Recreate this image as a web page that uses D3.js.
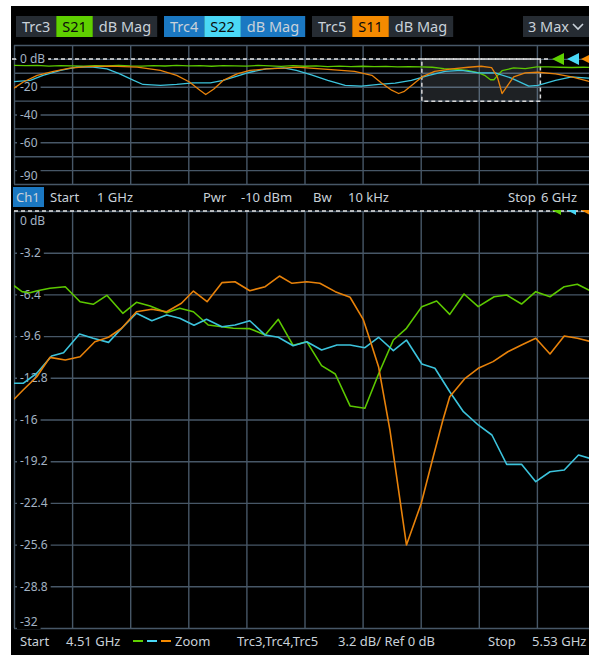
<!DOCTYPE html>
<html>
<head>
<meta charset="utf-8">
<script src="https://cdn.jsdelivr.net/npm/d3@7/dist/d3.min.js"></script>
<style>
  html, body { margin: 0; padding: 0; background: #fff; }
  svg { display: block; font-family: "Noto Sans", "Open Sans", sans-serif; }
</style>
</head>
<body>
<div id="graf"></div>
<script>
// I. Datos
trcNames   = ['Trc3', 'Trc4', 'Trc5']
paramNames = ['S21', 'S22', 'S11']
formatName = 'dB Mag'
maxLabel   = '3 Max'

chanTexts = ['Start', '1 GHz', 'Pwr', '-10 dBm', 'Bw', '10 kHz', 'Stop', '6 GHz']
zoomTexts = ['Start', '4.51 GHz', 'Zoom', 'Trc3,Trc4,Trc5', '3.2 dB/ Ref 0 dB', 'Stop', '5.53 GHz']

// diagrama superior: 1..6 GHz, 10 dB/div
overviewFreqGrid = [1, 1.5, 2, 2.5, 3, 3.5, 4, 4.5, 5, 5.5, 6]
overviewDbGrid   = [10, 0, -10, -20, -30, -40, -50, -60, -70, -80, -90]
overviewTickVals = [0, -20, -40, -60, -90]
overviewTickText = ['0 dB', '-20', '-40', '-60', '-90']
zoomBox          = [4.51, 5.53, 0, -30.5]

// diagrama inferior: 4.51..5.53 GHz, 3.2 dB/div
zoomFreqGrid = [4.51, 4.612, 4.714, 4.816, 4.918, 5.02, 5.122, 5.224, 5.326, 5.428, 5.53]
zoomDbGrid   = [0, -3.2, -6.4, -9.6, -12.8, -16, -19.2, -22.4, -25.6, -28.8, -32]
zoomTickText = ['0 dB', '-3.2', '-6.4', '-9.6', '-12.8', '-16', '-19.2', '-22.4', '-25.6', '-28.8', '-32']

// trazas vista general
ovS21Freq = [1.0, 1.1, 1.2, 1.3, 1.4, 1.5, 1.6, 1.7, 1.8, 1.9, 2.0, 2.1, 2.2, 2.3, 2.4, 2.5, 2.6, 2.7, 2.8, 2.9,
             3.0, 3.1, 3.2, 3.3, 3.4, 3.5, 3.6, 3.7, 3.8, 3.9, 4.0, 4.1, 4.2, 4.3, 4.4, 4.5, 4.6, 4.7, 4.8, 4.9,
             5.0, 5.05, 5.1, 5.13, 5.16, 5.2, 5.3, 5.4, 5.5, 5.6, 5.7, 5.8, 5.9, 6.0]
ovS21Db   = [-4.6, -4.9, -4.7, -5.2, -4.8, -5.0, -5.3, -4.9, -5.1, -4.6, -5.0, -5.2, -4.8, -5.1, -4.7, -5.0, -4.9, -5.3, -4.8, -5.0,
             -5.2, -4.7, -5.0, -5.4, -4.9, -5.3, -5.0, -5.5, -5.2, -5.6, -5.3, -5.6, -5.4, -5.8, -5.5, -5.8, -6.0, -7.0, -7.5, -8.2,
             -10.0, -11.8, -15.0, -15.0, -12.0, -8.5, -6.5, -7.0, -5.7, -5.8, -6.0, -6.2, -6.0, -6.3]

ovS22Freq = [1.0, 1.14, 1.25, 1.40, 1.54, 1.68, 1.80, 1.91, 2.03, 2.11, 2.26, 2.40, 2.54, 2.69, 2.80, 2.92, 3.03, 3.17, 3.32, 3.43,
             3.56, 3.70, 3.85, 3.99, 4.14, 4.28, 4.42, 4.57, 4.71, 4.85, 5.0, 5.14, 5.28, 5.43, 5.51, 5.66, 5.80, 5.94, 6.0]
ovS22Db   = [-16.3, -15.5, -11.8, -8.3, -5.9, -5.9, -7.2, -10.8, -15.5, -18.4, -19.1, -18.4, -17.3, -17.3, -15.5, -12.4, -9.6, -7.2, -6.5, -8.3,
             -11.5, -15.5, -19.1, -19.6, -18.4, -17.5, -15.5, -11.8, -9.0, -8.3, -10.0, -10.1, -13.8, -19.6, -19.1, -15.5, -13.0, -13.8, -14.0]

ovS11Freq = [1.0, 1.08, 1.20, 1.34, 1.48, 1.63, 1.83, 2.06, 2.26, 2.40, 2.51, 2.60, 2.65, 2.72, 2.80, 2.92, 3.03, 3.17, 3.32, 3.43,
             3.70, 3.93, 4.08, 4.16, 4.25, 4.31, 4.36, 4.44, 4.51, 4.62, 4.77, 4.91, 5.02, 5.11, 5.16, 5.20, 5.25, 5.30, 5.40, 5.51,
             5.66, 5.80, 5.94, 6.0]
ovS11Db   = [-21.0, -16.6, -11.8, -8.9, -6.7, -5.5, -5.2, -5.9, -8.3, -11.8, -16.6, -22.5, -25.6, -21.6, -15.5, -10.8, -8.3, -7.2, -6.7, -5.9,
             -7.6, -9.0, -11.8, -17.1, -22.5, -24.9, -23.3, -17.8, -13.0, -9.0, -7.2, -6.0, -5.3, -6.3, -13.0, -24.9, -18.9, -13.0, -10.1, -9.6,
             -10.8, -13.0, -16.0, -17.0]

// trazas zoom
zS21Freq = [4.51, 4.524, 4.538, 4.551, 4.573, 4.600, 4.626, 4.649, 4.673, 4.701, 4.725, 4.749, 4.778, 4.801, 4.825, 4.851, 4.875, 4.895,
            4.924, 4.951, 4.974, 5.000, 5.024, 5.050, 5.074, 5.100, 5.126, 5.150, 5.176, 5.199, 5.226, 5.252, 5.275, 5.300, 5.325, 5.353,
            5.375, 5.401, 5.426, 5.451, 5.476, 5.499, 5.530]
zS21Db   = [-5.73, -6.19, -6.27, -6.12, -5.93, -5.81, -6.96, -7.16, -6.47, -7.85, -7.01, -7.29, -7.80, -7.47, -7.73, -8.75, -8.88, -9.00,
            -9.03, -9.52, -8.31, -10.31, -10.03, -11.87, -12.51, -14.96, -15.14, -12.51, -9.90, -9.00, -7.34, -6.91, -7.93, -6.37, -7.34, -6.58,
            -6.45, -7.14, -6.19, -6.58, -5.81, -5.62, -6.30]

zS22Freq = [4.51, 4.526, 4.550, 4.576, 4.597, 4.625, 4.649, 4.676, 4.699, 4.725, 4.752, 4.778, 4.801, 4.826, 4.848, 4.875, 4.898, 4.924,
            4.951, 4.974, 5.000, 5.024, 5.050, 5.077, 5.100, 5.126, 5.150, 5.176, 5.199, 5.226, 5.249, 5.275, 5.299, 5.325, 5.349, 5.375,
            5.401, 5.426, 5.451, 5.476, 5.501, 5.530]
zS22Db   = [-13.22, -13.22, -12.45, -11.13, -10.87, -9.44, -9.77, -10.08, -9.00, -7.85, -8.42, -7.98, -8.23, -8.77, -8.31, -8.88, -8.75, -8.42,
            -9.52, -9.69, -10.34, -10.03, -10.67, -10.28, -10.28, -10.49, -9.69, -10.72, -9.90, -11.74, -12.07, -13.87, -15.40, -16.42, -17.19, -19.44,
            -19.44, -20.77, -20.01, -19.88, -18.72, -19.10]

zS11Freq = [4.51, 4.526, 4.550, 4.573, 4.600, 4.626, 4.652, 4.676, 4.699, 4.725, 4.752, 4.778, 4.804, 4.825, 4.849, 4.875, 4.898, 4.924,
            4.951, 4.976, 4.998, 5.024, 5.047, 5.074, 5.100, 5.123, 5.135, 5.150, 5.170, 5.199, 5.225, 5.246, 5.263, 5.275, 5.302, 5.325,
            5.351, 5.377, 5.401, 5.426, 5.451, 5.476, 5.499, 5.530]
zS11Db   = [-14.45, -13.74, -12.72, -11.23, -11.43, -11.18, -10.03, -9.69, -9.00, -7.73, -7.54, -7.73, -7.08, -6.14, -6.96, -5.50, -5.43, -6.12,
            -5.81, -4.99, -5.55, -5.43, -5.55, -6.19, -6.62, -8.31, -9.90, -11.95, -16.81, -25.63, -22.43, -18.86, -16.04, -14.25, -12.84, -12.07,
            -11.56, -10.80, -10.28, -9.77, -10.97, -9.59, -9.77, -10.10]

// II. Configuracion / estilos
W = 589, H = 655
col = {
  bg: '#000', tag: '#262c33', blue: '#1b78c2', text: '#c9d1d9', axis: '#a3b3c3',
  grid: '#475767', s21: '#5cc800', s22: '#3cc3dc', s11: '#e8820a',
  s21Tag: '#5fd000', s22Tag: '#4ad8f6', s11Tag: '#f58a00'
}
traceCol = [col.s21, col.s22, col.s11]
tagCol   = [col.s21Tag, col.s22Tag, col.s11Tag]

plotL = 14, plotR = 595
boxTop = { t: 45, b: 184 }
boxBot = { t: 211, b: 628 }

svg = d3.select('#graf').append('svg')
        .attr('width', W).attr('height', H)

svg.append('rect').attr('x', 11).attr('y', 6)
   .attr('width', W - 11).attr('height', H - 6).attr('fill', col.bg)

defs = svg.append('defs')
defs.append('clipPath').attr('id', 'clipTop').append('rect')
    .attr('x', plotL).attr('y', boxTop.t).attr('width', plotR - plotL).attr('height', boxTop.b - boxTop.t)
defs.append('clipPath').attr('id', 'clipBot').append('rect')
    .attr('x', plotL).attr('y', boxBot.t - 2).attr('width', plotR - plotL).attr('height', boxBot.b - boxBot.t + 2)

// escalas
xTop = d3.scaleLinear().domain([1, 6]).range([plotL, plotR])
yTop = d3.scaleLinear().domain([10, -90]).range([boxTop.t, boxTop.b])
xBot = d3.scaleLinear().domain([4.51, 5.53]).range([plotL, plotR])
yBot = d3.scaleLinear().domain([0, -32]).range([boxBot.t, boxBot.b])

// III. Cabecera de trazas
header = svg.append('g').attr('font-size', 14.5)
groupStart = [16, 164, 312]
trcNames.forEach((t, i) => {
  let xx = groupStart[i]
  let darkBg = i == 1 ? col.blue : col.tag
  let parts = [
    { txt: t, bg: darkBg, fg: col.text },
    { txt: paramNames[i], bg: tagCol[i], fg: '#0b0b0b' },
    { txt: formatName, bg: darkBg, fg: col.text }
  ]
  parts.forEach(p => {
    let r = header.append('rect').attr('y', 16).attr('height', 21).attr('fill', p.bg)
    let tx = header.append('text').attr('y', 32).attr('fill', p.fg).text(p.txt)
    let w = tx.node().getComputedTextLength() + 12
    r.attr('x', xx).attr('width', w)
    tx.attr('x', xx + 6)
    xx += w
  })
})
header.append('rect').attr('x', 523).attr('y', 16).attr('width', 70).attr('height', 21).attr('fill', col.tag)
header.append('text').attr('x', 528).attr('y', 32).attr('fill', col.text).text(maxLabel)
header.append('path').attr('d', 'M573,24 L578,29 L583,24')
      .attr('fill', 'none').attr('stroke', col.text).attr('stroke-width', 1.6)

// IV. Rejillas con ejes de d3
function grid(x, y, fVals, dVals, box) {
  let g = svg.append('g')
  g.append('g')
   .attr('transform', `translate(0, ${box.b})`)
   .call(d3.axisBottom(x).tickValues(fVals).tickSize(-(box.b - box.t)).tickFormat(''))
  g.append('g')
   .attr('transform', `translate(${plotL}, 0)`)
   .call(d3.axisLeft(y).tickValues(dVals).tickSize(-(plotR - plotL)).tickFormat(''))
  g.selectAll('.domain').remove()
  g.selectAll('line').attr('stroke', col.grid).attr('stroke-width', 1.4)
  return g
}
grid(xTop, yTop, overviewFreqGrid, overviewDbGrid, boxTop)
grid(xBot, yBot, zoomFreqGrid, zoomDbGrid, boxBot)

// rectangulo de zoom
svg.append('rect')
   .attr('x', xTop(zoomBox[0])).attr('y', yTop(zoomBox[2]))
   .attr('width', xTop(zoomBox[1]) - xTop(zoomBox[0]))
   .attr('height', yTop(zoomBox[3]) - yTop(zoomBox[2]))
   .attr('fill', 'rgba(150,165,180,0.2)')
   .attr('stroke', '#d8d8d8').attr('stroke-width', 1.5).attr('stroke-dasharray', '4,3')

// lineas de referencia 0 dB
svg.append('line').attr('x1', 12).attr('x2', 550).attr('y1', yTop(0)).attr('y2', yTop(0))
   .attr('stroke', '#e6e6e6').attr('stroke-width', 1.5).attr('stroke-dasharray', '4,3')
svg.append('line').attr('x1', plotL).attr('x2', W).attr('y1', yBot(0)).attr('y2', yBot(0))
   .attr('stroke', '#e6e6e6').attr('stroke-width', 1.5).attr('stroke-dasharray', '4,3')

// etiquetas del eje Y (con fondo negro)
function yLabels(vals, texts, y, size, shiftFn) {
  let g = svg.append('g').attr('font-size', size)
  vals.forEach((v, i) => {
    let yy = y(v) + shiftFn(i)
    let t = g.append('text').attr('x', 20).attr('y', yy).attr('dy', '0.35em')
             .attr('fill', col.axis).text(texts[i])
    let w = t.node().getComputedTextLength()
    g.insert('rect', 'text').attr('x', 17).attr('y', yy - 7).attr('width', w + 6).attr('height', 14)
     .attr('fill', col.bg)
  })
}
yLabels(overviewTickVals, overviewTickText, yTop, 12,
        i => i == overviewTickVals.length - 1 ? -8 : 0)
yLabels(zoomDbGrid, zoomTickText, yBot, 12,
        i => i == 0 ? 10 : (i == zoomDbGrid.length - 1 ? -6 : 0))

// V. Trazas
function drawTraces(x, y, sets, clip, width) {
  let line = d3.line().x(d => x(d[0])).y(d => y(d[1]))
  let g = svg.append('g').attr('clip-path', `url(#${clip})`)
  sets.forEach((s, i) => {
    g.append('path').datum(d3.zip(s[0], s[1]))
     .attr('d', line).attr('fill', 'none')
     .attr('stroke', traceCol[i]).attr('stroke-width', width)
     .attr('stroke-linejoin', 'round')
  })
}
drawTraces(xTop, yTop, [[ovS21Freq, ovS21Db], [ovS22Freq, ovS22Db], [ovS11Freq, ovS11Db]], 'clipTop', 1.3)
drawTraces(xBot, yBot, [[zS21Freq, zS21Db], [zS22Freq, zS22Db], [zS11Freq, zS11Db]], 'clipBot', 1.6)

// marcadores de nivel de referencia
markX = [552, 567, 581]
markX.forEach((mx, i) => {
  let yy = yTop(0)
  svg.append('path').attr('d', `M${mx},${yy} L${mx + 12},${yy - 6} L${mx + 12},${yy + 6} Z`)
     .attr('fill', tagCol[i])
  let yb = yBot(0)
  svg.append('path').attr('d', `M${mx},${yb - 1} L${mx + 9},${yb - 1} L${mx + 9},${yb + 4} Z`)
     .attr('fill', tagCol[i])
})

// VI. Barra de canal
chan = svg.append('g').attr('font-size', 13).attr('fill', col.text)
chan.append('rect').attr('x', 13).attr('y', 187).attr('width', 31).attr('height', 20).attr('fill', col.blue)
chan.append('text').attr('x', 16).attr('y', 202).text('Ch1')
chanX = [50, 97, 203, 241, 313, 348, 508, 541]
chanTexts.forEach((t, i) => chan.append('text').attr('x', chanX[i]).attr('y', 202).text(t))

// barra inferior (zoom)
zb = svg.append('g').attr('font-size', 13).attr('fill', col.text)
zX = [20, 66, 175, 237, 338, 488, 532]
zoomTexts.forEach((t, i) => zb.append('text').attr('x', zX[i]).attr('y', 646).text(t))
dashX = [133, 147, 161]
dashX.forEach((dx, i) => zb.append('line').attr('x1', dx).attr('x2', dx + 10)
  .attr('y1', 641).attr('y2', 641).attr('stroke', tagCol[i]).attr('stroke-width', 2))
</script>
</body>
</html>
